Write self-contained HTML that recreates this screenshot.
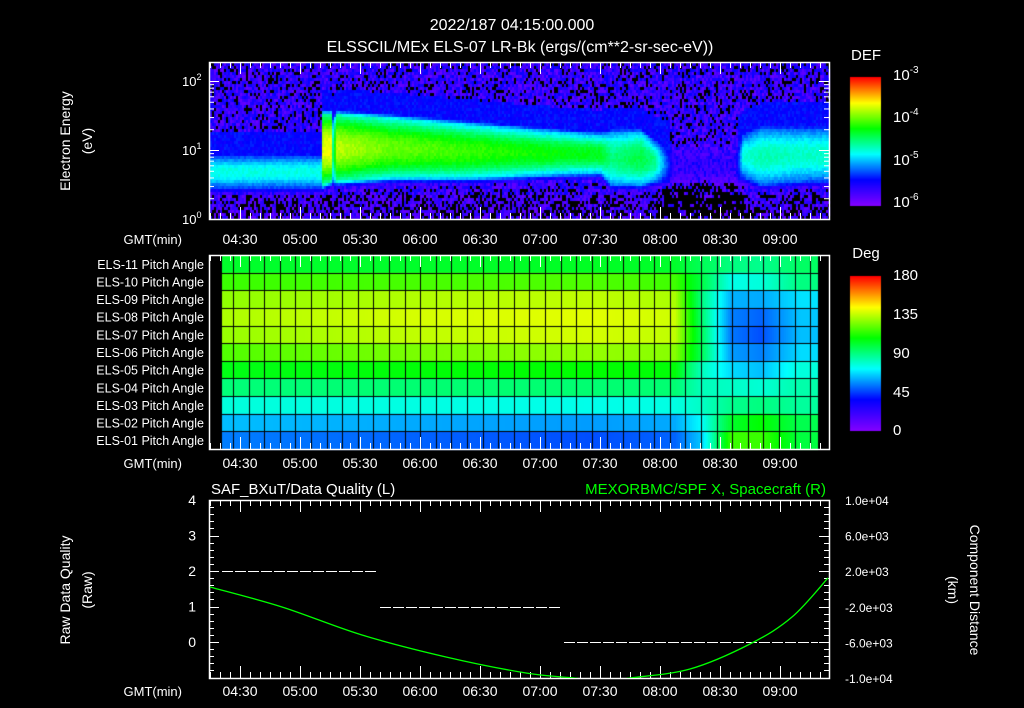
<!DOCTYPE html>
<html><head><meta charset="utf-8"><style>
html,body{margin:0;padding:0;background:#000;}
#wrap{position:relative;width:1024px;height:708px;background:#000;overflow:hidden;font-family:"Liberation Sans",sans-serif;}
canvas{position:absolute;left:0;top:0;}
svg{position:absolute;left:0;top:0;}
text{font-family:"Liberation Sans",sans-serif;fill:#fff;}
</style></head><body>
<div id="wrap">
<canvas id="cv" width="1024" height="708"></canvas>
<svg id="sv" width="1024" height="708" xmlns="http://www.w3.org/2000/svg"></svg>
</div>
<script>
// ---------- DATA ----------
const specT    = [0,   55,  56,  60,  61,  63,  90,  130, 170, 195, 200, 215, 222, 232, 262, 266, 275, 300, 309];
const specLo   = [0.5, 0.5, 0.55,0.6, 0.6, 0.6, 0.65,0.65,0.7, 0.72,0.55,0.55,0.6, 0.6, 0.6, 0.65,0.55,0.6, 0.6];
const specHi   = [0.9, 0.9, 1.5, 1.5, 1.4, 1.5, 1.45,1.35,1.25,1.2, 1.25,1.25,1.1, 1.0, 1.0, 1.2, 1.3, 1.3, 1.3];
const specPeak = [0.42,0.42,0.78,0.8, 0.5, 0.75,0.68,0.64,0.6, 0.58,0.5, 0.55,0.5, 0.1, 0.1, 0.42,0.46,0.44,0.44];
const paTimes = [0,100,190,232,245,260,275,295,305];
const paRows = ["ELS-11","ELS-10","ELS-09","ELS-08","ELS-07","ELS-06","ELS-05","ELS-04","ELS-03","ELS-02","ELS-01"];
const paEls11 = [102,102,103,102,96,90,88,94,94];
const paEls10 = [116,118,119,117,99,75,77,90,90];
const paEls09 = [128,133,135,132,91,61,60,68,68];
const paEls08 = [132,138,140,137,94,54,50,64,64];
const paEls07 = [129,135,138,135,97,53,47,63,63];
const paEls06 = [119,125,129,127,97,58,54,67,67];
const paEls05 = [105,107,108,107,82,67,63,77,77];
const paEls04 = [91,92,92,92,82,80,78,84,84];
const paEls03 = [77,76,75,76,80,88,90,86,86];
const paEls02 = [63,60,58,60,72,102,108,97,97];
const paEls01 = [54,50,47,50,64,116,116,99,99];
const dqStart = [6,85,177];
const dqEnd   = [84,176,304];
const dqVal   = [2,1,0];
const scT = [0,36,76,118,158,182,196,210,240,270,291,309];
const scX = [225,-2020,-5170,-7640,-9440,-10000,-10400,-10000,-8990,-6180,-3150,1240];
const timeLabels = ["04:30","05:00","05:30","06:00","06:30","07:00","07:30","08:00","08:30","09:00"];
const timeLabelMin = [15,45,75,105,135,165,195,225,255,285];
const leftLabels = ["4","3","2","1","0"];
const leftVals = [4,3,2,1,0];
const rightLabels = ["1.0e+04","6.0e+03","2.0e+03","-2.0e+03","-6.0e+03","-1.0e+04"];
const rightVals = [10000,6000,2000,-2000,-6000,-10000];

// ---------- helpers ----------
const X0=210, PXM=2, XL=209, XR=829;
const xOf = m => X0 + PXM*m;
const yE = l => 219 - 69*l;
const T1=62,B1=219, T2=255,B2=449, T3=500,B3=678;
const yQ = v => 642 - 35.5*v;
const yK = v => T3 + (10000 - v)/20000*(B3-T3);
function interp(ts, vs, t){
  if(t<=ts[0]) return vs[0];
  for(let i=1;i<ts.length;i++){ if(t<=ts[i]){const f=(t-ts[i-1])/(ts[i]-ts[i-1]);return vs[i-1]+f*(vs[i]-vs[i-1]);} }
  return vs[vs.length-1];
}
const stops=[[0,[130,0,255]],[0.2,[0,0,255]],[0.4,[0,255,255]],[0.6,[0,255,0]],[0.8,[255,255,0]],[1,[255,0,0]]];
function cmap(t){
  t=Math.max(0,Math.min(1,t));
  for(let i=1;i<stops.length;i++){ if(t<=stops[i][0]){const a=stops[i-1],b=stops[i];const f=(t-a[0])/(b[0]-a[0]);
    return [0,1,2].map(k=>Math.round(a[1][k]+f*(b[1][k]-a[1][k])));}}
  return stops[5][1];
}
function hash(i,j){const s=Math.sin(i*127.1+j*311.7)*43758.5453;return s-Math.floor(s);}

const cv=document.getElementById('cv'),ctx=cv.getContext('2d');
// ---------- spectrogram ----------
for(let m=0;m<309.5;m+=1){
  const lo=interp(specT,specLo,m),hi=interp(specT,specHi,m),pk=interp(specT,specPeak,m);
  const mid=(lo+hi)/2,half=(hi-lo)/2;
  for(let y=T1+1;y<B1;y+=3){
    const l=(219-y)/69;
    let bg=0.1+(hash(m,y)-0.5)*0.2;
    if(l<0.35) bg-=0.04;
    if(m>222&&m<268&&l<0.65&&hash(y,m)>0.35) bg-=0.15;
    const d=Math.abs(l-mid);
    let sh = d<half ? 1-0.35*Math.pow(d/half,2) : 0.65*Math.exp(-Math.pow((d-half)/0.1,2));
    let haze = (l>lo-0.05 && l<hi+0.4)? 0.2+(hash(y*3,m)-0.5)*0.06 : 0;
    if(pk<0.2) haze=0;
    let v=Math.max(bg, pk*sh+(hash(m*7,y)-0.5)*0.04, haze);
    if(v<0.04){ctx.fillStyle='#000';}
    else {const c=cmap(v);ctx.fillStyle=`rgb(${c[0]},${c[1]},${c[2]})`;}
    ctx.fillRect(xOf(m),y,2,3);
  }
}
// ---------- pitch angle ----------
const paData=[paEls11,paEls10,paEls09,paEls08,paEls07,paEls06,paEls05,paEls04,paEls03,paEls02,paEls01];
const GX0=222,GX1=818,rowH=(B2-T2)/11;
for(let r=0;r<11;r++){
  for(let x=GX0;x<GX1;x+=2){
    const m=(x-X0)/PXM;
    const c=cmap(interp(paTimes,paData[r],m)/180);
    ctx.fillStyle=`rgb(${c[0]},${c[1]},${c[2]})`;
    ctx.fillRect(x,T2+r*rowH,2,rowH+1);
  }
}
ctx.fillStyle='#000';
for(let x=233;x<GX1;x+=15.6) ctx.fillRect(Math.round(x),T2,1,B2-T2);
for(let r=1;r<11;r++) ctx.fillRect(GX0,Math.round(T2+r*rowH),GX1-GX0,1);
for(let y=77;y<=205;y++){const c=cmap((205-y)/128);ctx.fillStyle=`rgb(${c[0]},${c[1]},${c[2]})`;ctx.fillRect(850,y,31,1);}
for(let y=276;y<=430;y++){const c=cmap((430-y)/154);ctx.fillStyle=`rgb(${c[0]},${c[1]},${c[2]})`;ctx.fillRect(850,y,31,1);}

// ---------- SVG ----------
const sv=document.getElementById('sv');const NS='http://www.w3.org/2000/svg';
function el(tag,attrs,txt){const e=document.createElementNS(NS,tag);for(const k in attrs)e.setAttribute(k,attrs[k]);if(txt!==undefined)e.textContent=txt;sv.appendChild(e);return e;}
function txt(x,y,s,name,anchor,size,fill,rot){
  const e=el('text',{x:x,y:y,'font-size':size||14,'text-anchor':anchor||'start'},s);
  if(fill)e.setAttribute('style','fill:'+fill);
  if(rot)e.setAttribute('transform',`rotate(${rot} ${x} ${y})`);
  
  
  return e;
}
function line(x1,y1,x2,y2,name,stroke,extra){
  const e=el('line',{x1:x1,y1:y1,x2:x2,y2:y2,stroke:stroke||'#fff','stroke-width':1});
  if(extra)for(const k in extra)e.setAttribute(k,extra[k]);
  
  
  return e;
}
function frame(t,b,name){
  const r=el('rect',{x:XL+0.5,y:t+0.5,width:XR-XL,height:b-t,fill:'none',stroke:'#fff','stroke-width':1.5});
  
  
  for(let m=0;m<=305;m+=5){const x=xOf(m)+0.5;const L=(m%30===15)?12:6;
    line(x,t,x,t+L,'time-tick');line(x,b,x,b-L,'time-tick');}
}
function timeAxis(y){
  txt(182,y,'GMT(min)','gmt-label','end',13);
  timeLabels.forEach((s,i)=>txt(xOf(timeLabelMin[i]),y,s,'time-label-'+s,'middle',14));
}
txt(512,30,'2022/187 04:15:00.000','plot-title','middle',16);
txt(520,52,'ELSSCIL/MEx ELS-07 LR-Bk  (ergs/(cm**2-sr-sec-eV))','plot-subtitle','middle',16);
frame(T1,B1,'spectrogram-frame');
for(let d=0;d<3;d++)for(let k=1;k<10;k++){const l=d+Math.log10(k);if(l>2.25)continue;const y=yE(l)+0.5;const L=k===1?10:5;
  line(XL,y,XL+L,y,'energy-tick');line(XR,y,XR-L,y,'energy-tick');}
[0,1,2].forEach(p=>{const t=txt(182,yE(p)+5,'10','energy-label-'+p,'start',13);const s=el('tspan',{dy:-6,'font-size':9},''+p);t.appendChild(s);});
txt(70,141,'Electron Energy','energy-axis-title','middle',14,null,-90);
txt(92,141,'(eV)','energy-axis-unit','middle',14,null,-90);
timeAxis(244);
txt(866,60,'DEF','def-colorbar-title','middle',15);
[[-3,80],[-4,122],[-5,165],[-6,207]].forEach(a=>{const t=txt(893,a[1],'10','def-label','start',15);const s=el('tspan',{dy:-7,'font-size':10},''+a[0]);t.appendChild(s);});
const r2=el('rect',{x:XL+0.5,y:T2+0.5,width:XR-XL,height:B2-T2,fill:'none',stroke:'#fff','stroke-width':1.5});


for(let m=0;m<=305;m+=5){const x=xOf(m)+0.5;const L=(m%30===15)?12:6;line(x,T2,x,T2+L,'time-tick');line(x,B2,x,B2-L,'time-tick');}
paRows.forEach((s,i)=>txt(204,T2+rowH*i+rowH/2+5,s+' Pitch Angle','row-label-'+s,'end',12.5));
timeAxis(468);
txt(866,258,'Deg','deg-colorbar-title','middle',15);
[['180',280],['135',319],['90',358],['45',397],['0',435]].forEach(a=>txt(893,a[1],a[0],'deg-label-'+a[0],'start',15));
frame(T3,B3,'timeseries-frame');
for(let v=-1;v<=4.001;v+=0.2){const y=Math.round(yQ(v))+0.5;const L=(Math.abs(v-Math.round(v))<0.01)?10:5;line(XL,y,XL+L,y,'quality-tick');line(XR,y,XR-L,y,'quality-tick');}
leftLabels.forEach((s,i)=>txt(196,yQ(leftVals[i])+5,s,'quality-label-'+s,'end',14));
rightLabels.forEach((s,i)=>txt(845,yK(rightVals[i])+5,s,'distance-label','start',12));
txt(211,494,'SAF_BXuT/Data Quality (L)','left-series-title','start',15);
txt(826,494,'MEXORBMC/SPF X, Spacecraft (R)','right-series-title','end',15,'#00ff00');
txt(70,590,'Raw Data Quality','quality-axis-title','middle',14,null,-90);
txt(92,590,'(Raw)','quality-axis-unit','middle',14,null,-90);
txt(970,590,'Component Distance','distance-axis-title','middle',14,null,90);
txt(948,590,'(km)','distance-axis-unit','middle',14,null,90);
timeAxis(696);
dqVal.forEach((v,i)=>{
  line(xOf(dqStart[i]),Math.round(yQ(v))+0.5,xOf(dqEnd[i]),Math.round(yQ(v))+0.5,'quality-segment-'+i,'#fff',{'stroke-dasharray':'11 2'});
});
const cp=document.createElementNS(NS,'clipPath');cp.setAttribute('id','c3');
const cr=document.createElementNS(NS,'rect');cr.setAttribute('x',XL);cr.setAttribute('y',T3);cr.setAttribute('width',XR-XL);cr.setAttribute('height',B3-T3);
cp.appendChild(cr);sv.appendChild(cp);
// smooth curve (Catmull-Rom through data points)
const P=scT.map((t,i)=>[xOf(t),yK(scX[i])]);
let d='M'+P[0][0]+','+P[0][1];
for(let i=0;i<P.length-1;i++){
  const p0=P[Math.max(0,i-1)],p1=P[i],p2=P[i+1],p3=P[Math.min(P.length-1,i+2)];
  const c1=[p1[0]+(p2[0]-p0[0])/6,p1[1]+(p2[1]-p0[1])/6];
  const c2=[p2[0]-(p3[0]-p1[0])/6,p2[1]-(p3[1]-p1[1])/6];
  d+=` C${c1[0]},${c1[1]} ${c2[0]},${c2[1]} ${p2[0]},${p2[1]}`;
}
const pl=el('path',{d:d,fill:'none',stroke:'#00ff00','stroke-width':1.3,'clip-path':'url(#c3)'});


</script>
</body></html>
